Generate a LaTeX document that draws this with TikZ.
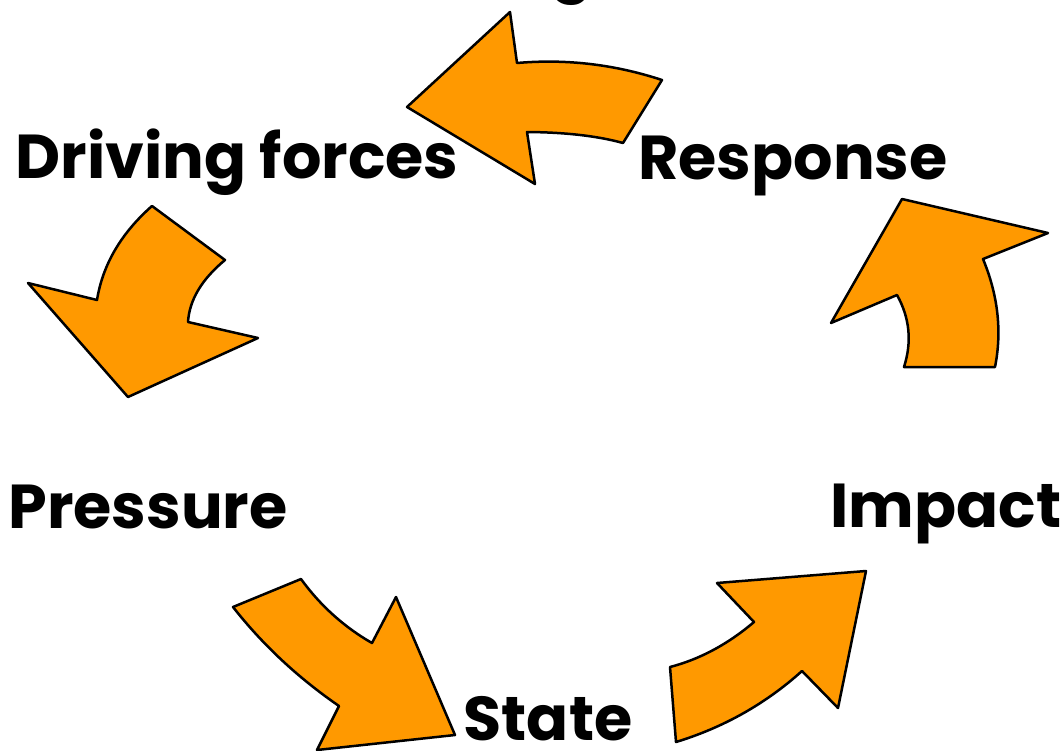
\documentclass[tikz,border=0pt]{standalone}
\usepackage{fontspec}
\newfontfamily\labelfont{Poppins}
\definecolor{ffzzqq}{rgb}{1,0.6,0}

\begin{document}
\begin{tikzpicture}[line cap=round,line join=round,x=1pt,y=-1pt,
  lbl/.style={font=\labelfont\bfseries\fontsize{62}{62}\selectfont,anchor=base,inner sep=0pt}]
\useasboundingbox (0,0) rectangle (1060,750);
\draw [line width=2.5pt,fill=ffzzqq] (662,80) -- (623,143) .. controls (597.7,136) and (565.7,132.3) .. (527,132) -- (535,184) -- (407,107) -- (510,12) -- (517,63) .. controls (566,58.7) and (614.3,64.3) .. cycle;
\draw [line width=2.5pt,fill=ffzzqq] (152,206) -- (225,260) .. controls (201.7,279.3) and (189.4,300) .. (188,322) -- (258,338) -- (128,397) -- (28,283) -- (97,300) .. controls (102.7,264.7) and (121,233.3) .. cycle;
\draw [line width=2.5pt,fill=ffzzqq] (904,367) -- (995,367) .. controls (1002.1,331.4) and (998.1,295.4) .. (983,259) -- (1048,233) -- (902,199) -- (831,323) -- (897,295) .. controls (909.7,317.7) and (912.1,341.7) .. cycle;
\draw [line width=2.5pt,fill=ffzzqq] (233,607) -- (301,579) .. controls (320.4,605.7) and (344.1,627) .. (372,643) -- (396,597) -- (455,735) -- (317,750) -- (339,706) .. controls (297.9,677.7) and (262.6,644.7) .. cycle;
\draw [line width=2.5pt,fill=ffzzqq] (676,742) -- (670,667) .. controls (699.7,659.3) and (727.7,644.3) .. (754,622) -- (717,583) -- (866,571) -- (838,708) -- (802,671) .. controls (765.7,703.7) and (723.7,727.4) .. cycle;
\node [lbl] (top) at (572,-12) {g};
\node [lbl] (driving) at (237,178) {Driving forces};
\node [lbl] (response) at (793,179) {Response};
\node [lbl] (pressure) at (148,528) {Pressure};
\node [lbl] (impact) at (946,527) {Impact};
\node [lbl] (state) at (548,740) {State};
\end{tikzpicture}
\end{document}
